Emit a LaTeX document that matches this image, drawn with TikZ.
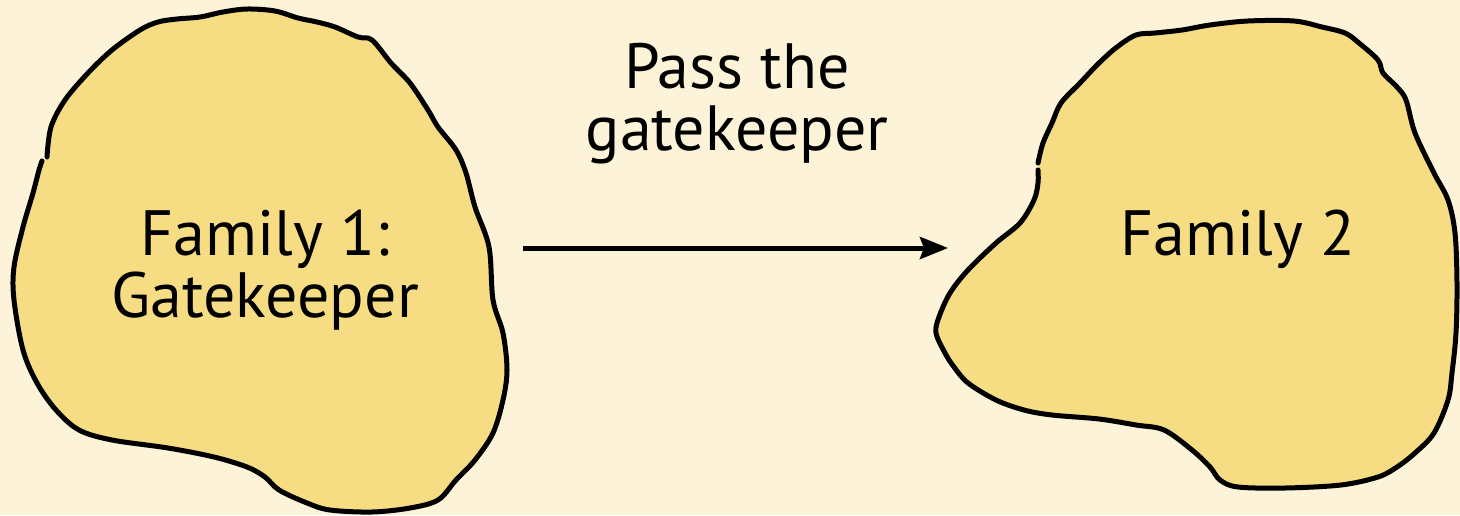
\documentclass[tikz,border=0pt]{standalone}
\usepackage{fontspec}
\setmainfont{PT Sans}
\usetikzlibrary{arrows.meta}
\definecolor{paper}{HTML}{FCF3D8}
\definecolor{blobfill}{HTML}{F6DD83}
\tikzset{
  blobline/.style={draw=black, line width=5pt, line join=round, line cap=round},
  label/.style={font=\fontsize{64}{62}\selectfont, align=center, inner sep=0pt, anchor=base},
  flow/.style={draw=black, line width=5pt, -{Stealth[length=28pt,width=22pt,inset=4pt]}}
}
\begin{document}
\begin{tikzpicture}[x=1pt,y=-1pt]
  \useasboundingbox[fill=paper] (0,0) rectangle (1460,515);

  % left family outline
  \def\blobA{(47,157) (51,127) (65,100) (88,73) (112,50) (140,30) (158,22) (177,19) (200,17) (223,12) (247,9) (275,11) (298,18) (317,22) (335,27) (358,37) (372,40) (391,63) (410,83) (428,110) (438,127) (456,150) (466,173) (475,207) (489,247) (493,300) (503,333) (507,370) (503,400) (493,433) (475,460) (456,480) (438,500) (410,508) (372,512) (330,510) (307,503) (279,490) (265,477) (247,467) (214,457) (168,448) (112,440) (79,430) (56,410) (37,383) (23,350) (14,300) (14,267) (23,227) (33,193) (39,170) (42,161)}
  \fill[blobfill] plot[smooth cycle, tension=0.55] coordinates {\blobA};
  \draw[blobline] plot[smooth, tension=0.55] coordinates {\blobA};

  % right family outline
  \def\blobB{(1038,163) (1043,143) (1052,123) (1061,103) (1080,83) (1099,63) (1117,47) (1136,35) (1155,33) (1182,30) (1210,25) (1248,21) (1294,21) (1322,27) (1345,33) (1359,43) (1378,60) (1383,73) (1397,87) (1406,100) (1415,133) (1434,173) (1448,200) (1455,233) (1457,283) (1456,333) (1452,373) (1448,400) (1434,433) (1415,453) (1397,467) (1378,477) (1341,485) (1285,488) (1238,487) (1220,480) (1210,467) (1192,450) (1164,430) (1136,425) (1099,419) (1052,415) (1024,410) (996,400) (968,383) (954,367) (945,353) (936,333) (939,317) (950,293) (968,270) (996,243) (1020,223) (1034,200) (1038,183) (1038,170)}
  \fill[blobfill] plot[smooth cycle, tension=0.55] coordinates {\blobB};
  \draw[blobline] plot[smooth, tension=0.55] coordinates {\blobB};

  \node[label] (fam1) at (265,317) {Family 1:\\Gatekeeper};
  \node[label] (fam2) at (1238,255) {Family 2};
  \node[label] (pass) at (737,150) {Pass the\\gatekeeper};

  \coordinate (tail) at (523,248);
  \coordinate (head) at (948,248);
  \draw[flow] (tail) -- (head);
\end{tikzpicture}
\end{document}
